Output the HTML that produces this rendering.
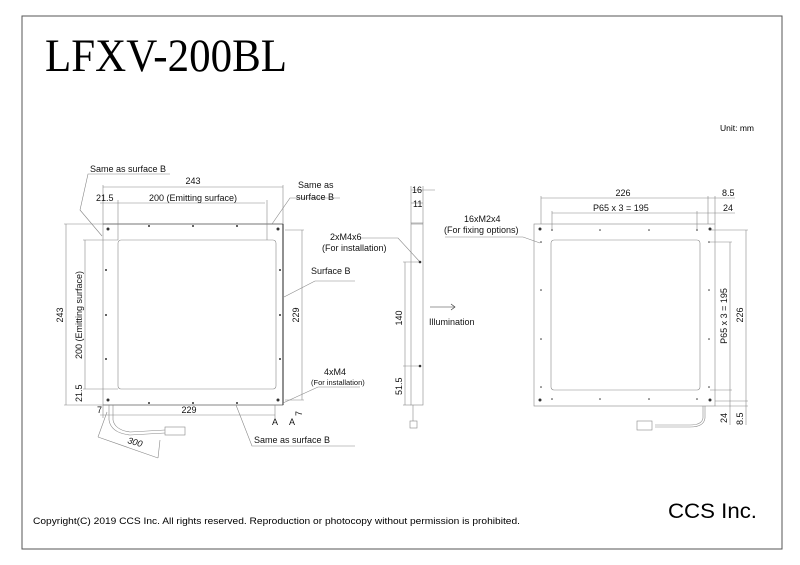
<!DOCTYPE html>
<html><head><meta charset="utf-8"><style>
html,body{margin:0;padding:0;background:#fff;}
svg{display:block;font-family:"Liberation Sans",sans-serif;}
</style></head><body>
<svg width="800" height="565" viewBox="0 0 800 565" xmlns="http://www.w3.org/2000/svg">
<rect x="22" y="16" width="760" height="533" fill="none" stroke="#555" stroke-width="1"/>
<text x="45" y="71" font-family="Liberation Serif,serif" font-size="47" textLength="242" lengthAdjust="spacingAndGlyphs">LFXV-200BL</text>
<text x="754" y="131" font-size="8.5" text-anchor="end">Unit: mm</text>
<text x="33" y="524" font-size="9" textLength="487" lengthAdjust="spacingAndGlyphs">Copyright(C) 2019 CCS Inc. All rights reserved. Reproduction or photocopy without permission is prohibited.</text>
<text x="668" y="518" font-size="21" textLength="89" lengthAdjust="spacingAndGlyphs">CCS Inc.</text>

<g stroke="#888" stroke-width="0.6" fill="none">
<!-- LEFT VIEW -->
<rect x="103" y="224" width="180" height="181"/>
<rect x="118" y="240" width="158" height="149" rx="3"/>
<line x1="103" y1="224" x2="283" y2="224" stroke="#333"/>
<line x1="283" y1="224" x2="283" y2="405" stroke="#222" stroke-width="1"/>
<line x1="103" y1="405" x2="283" y2="405" stroke="#555"/>
<!-- dims top -->
<line x1="103" y1="187" x2="283" y2="187"/><line x1="103" y1="185" x2="103" y2="224"/><line x1="283" y1="185" x2="283" y2="224"/>
<line x1="100" y1="203" x2="265" y2="203"/><line x1="118" y1="200" x2="118" y2="240"/><line x1="267" y1="200" x2="267" y2="240"/>
<!-- dims left -->
<line x1="66" y1="224" x2="66" y2="405"/><line x1="64" y1="224" x2="103" y2="224"/><line x1="64" y1="405" x2="103" y2="405"/>
<line x1="85" y1="240" x2="85" y2="389"/><line x1="83" y1="240" x2="118" y2="240"/><line x1="83" y1="389" x2="118" y2="389"/>
<!-- bottom -->
<line x1="100" y1="415" x2="275" y2="415"/><line x1="103" y1="405" x2="103" y2="418"/><line x1="275" y1="405" x2="275" y2="418"/>
<!-- right 229 -->
<line x1="302" y1="230" x2="302" y2="400"/><line x1="285" y1="230" x2="304" y2="230"/><line x1="285" y1="400" x2="304" y2="400"/>
<!-- leaders -->
<polyline points="170,174 88,174 80,210 102,236"/>
<polyline points="340,198 290,198 272,224"/>
<polyline points="355,281 315,281 284,297"/>
<polyline points="360,387 318,387 283,403"/>
<polyline points="355,446 252,446 236,405"/>
<!-- cable -->
<path d="M113,405 V420 Q115,430 130,432 L165,430"/>
<path d="M109,405 V420 Q111,433 130,435 L165,433"/>
<rect x="165" y="427" width="20" height="8"/>
<line x1="107" y1="412" x2="98" y2="437"/><line x1="160" y1="440" x2="158" y2="458" /><line x1="98" y1="437" x2="158" y2="458"/>
<!-- side view -->
<rect x="411" y="223" width="12" height="182"/>
<line x1="411" y1="224" x2="423" y2="224"/>
<line x1="411" y1="190" x2="435" y2="190"/><line x1="411" y1="203" x2="423" y2="203"/>
<line x1="411" y1="186" x2="411" y2="223"/><line x1="423" y1="186" x2="423" y2="223"/>
<line x1="405" y1="262" x2="405" y2="405"/><line x1="403" y1="262" x2="420" y2="262"/><line x1="403" y1="366" x2="420" y2="366"/><line x1="403" y1="405" x2="411" y2="405"/>
<polyline points="360,238 398,238 420,262"/>
<line x1="413" y1="405" x2="413" y2="421"/>
<rect x="410" y="421" width="7" height="7"/>
<line x1="430" y1="307" x2="455" y2="307" stroke="#333"/><polyline points="451,304 455,307 451,310" stroke="#333"/>
<!-- right view -->
<rect x="534" y="224" width="181" height="182"/>
<rect x="551" y="240" width="149" height="150" rx="3"/>
<line x1="541" y1="198" x2="708" y2="198"/><line x1="541" y1="196" x2="541" y2="224"/><line x1="708" y1="196" x2="708" y2="224"/>
<line x1="708" y1="198" x2="735" y2="198"/><line x1="715" y1="196" x2="715" y2="224"/>
<line x1="552" y1="213" x2="697" y2="213"/><line x1="552" y1="211" x2="552" y2="230"/><line x1="697" y1="211" x2="697" y2="230"/>
<line x1="697" y1="213" x2="735" y2="213"/>
<line x1="746" y1="230" x2="746" y2="401"/><line x1="710" y1="230" x2="748" y2="230"/><line x1="715" y1="401" x2="748" y2="401"/>
<line x1="746" y1="401" x2="746" y2="425"/><line x1="715" y1="406" x2="748" y2="406"/>
<line x1="730" y1="242" x2="730" y2="390"/><line x1="710" y1="242" x2="732" y2="242"/><line x1="710" y1="390" x2="732" y2="390"/>
<line x1="730" y1="390" x2="730" y2="425"/>
<polyline points="445,237 523,237 540,243"/>
<path d="M703,406 V418 Q702,425 690,425 L655,425"/>
<path d="M705,406 V418 Q704,427 690,427 L655,427"/>
<rect x="637" y="421" width="15" height="9"/>
</g>

<g fill="#333">
<circle cx="108" cy="229" r="1.5"/><circle cx="278" cy="229" r="1.5"/><circle cx="108" cy="400" r="1.5"/><circle cx="278" cy="400" r="1.5"/>
<circle cx="149" cy="226" r="1"/><circle cx="193" cy="226" r="1"/><circle cx="237" cy="226" r="1"/>
<circle cx="149" cy="403" r="1"/><circle cx="193" cy="403" r="1"/><circle cx="237" cy="403" r="1"/>
<circle cx="106" cy="270" r="1"/><circle cx="106" cy="315" r="1"/><circle cx="106" cy="359" r="1"/>
<circle cx="280" cy="270" r="1"/><circle cx="280" cy="315" r="1"/><circle cx="280" cy="359" r="1"/>
<circle cx="420" cy="262" r="1.3"/><circle cx="420" cy="366" r="1.3"/>
<circle cx="540" cy="229" r="1.5"/><circle cx="710" cy="229" r="1.5"/><circle cx="540" cy="400" r="1.5"/><circle cx="710" cy="400" r="1.5"/>
<circle cx="552" cy="230" r="0.8"/><circle cx="600" cy="230" r="0.8"/><circle cx="649" cy="230" r="0.8"/><circle cx="697" cy="230" r="0.8"/>
<circle cx="552" cy="399" r="0.8"/><circle cx="600" cy="399" r="0.8"/><circle cx="649" cy="399" r="0.8"/><circle cx="697" cy="399" r="0.8"/>
<circle cx="541" cy="242" r="0.8"/><circle cx="541" cy="290" r="0.8"/><circle cx="541" cy="339" r="0.8"/><circle cx="541" cy="387" r="0.8"/>
<circle cx="709" cy="242" r="0.8"/><circle cx="709" cy="290" r="0.8"/><circle cx="709" cy="339" r="0.8"/><circle cx="709" cy="387" r="0.8"/>
</g>

<g font-size="9" fill="#111">
<text x="90" y="172">Same as surface B</text>
<text x="193" y="184" text-anchor="middle">243</text>
<text x="96" y="201">21.5</text>
<text x="149" y="201">200 (Emitting surface)</text>
<text x="298" y="188">Same as</text>
<text x="296" y="200">surface B</text>
<text x="311" y="274">Surface B</text>
<text x="324" y="375">4xM4</text>
<text x="311" y="385" font-size="7.5">(For installation)</text>
<text x="254" y="443">Same as surface B</text>
<text x="189" y="413" text-anchor="middle">229</text>
<text x="97" y="413">7</text>
<text x="272" y="425">A</text>
<text x="289" y="425">A</text>
<text transform="translate(302,416) rotate(-90)">7</text>
<text transform="translate(63,315) rotate(-90)" text-anchor="middle">243</text>
<text transform="translate(82,315) rotate(-90)" text-anchor="middle">200 (Emitting surface)</text>
<text transform="translate(82,402) rotate(-90)">21.5</text>
<text transform="translate(299,315) rotate(-90)" text-anchor="middle">229</text>
<text transform="translate(127,443) rotate(16)" font-style="italic">300</text>
<text x="412" y="193">16</text>
<text x="413" y="207">11</text>
<text x="330" y="240">2xM4x6</text>
<text x="322" y="251">(For installation)</text>
<text transform="translate(402,318) rotate(-90)" text-anchor="middle">140</text>
<text transform="translate(402,395) rotate(-90)">51.5</text>
<text x="429" y="325">Illumination</text>
<text x="623" y="196" text-anchor="middle">226</text>
<text x="722" y="196">8.5</text>
<text x="593" y="211">P65 x 3 = 195</text>
<text x="723" y="211">24</text>
<text x="464" y="222">16xM2x4</text>
<text x="444" y="233">(For fixing options)</text>
<text transform="translate(743,315) rotate(-90)" text-anchor="middle">226</text>
<text transform="translate(727,316) rotate(-90)" text-anchor="middle">P65 x 3 = 195</text>
<text transform="translate(727,423) rotate(-90)">24</text>
<text transform="translate(743,425) rotate(-90)">8.5</text>
</g>
</svg>
</body></html>
